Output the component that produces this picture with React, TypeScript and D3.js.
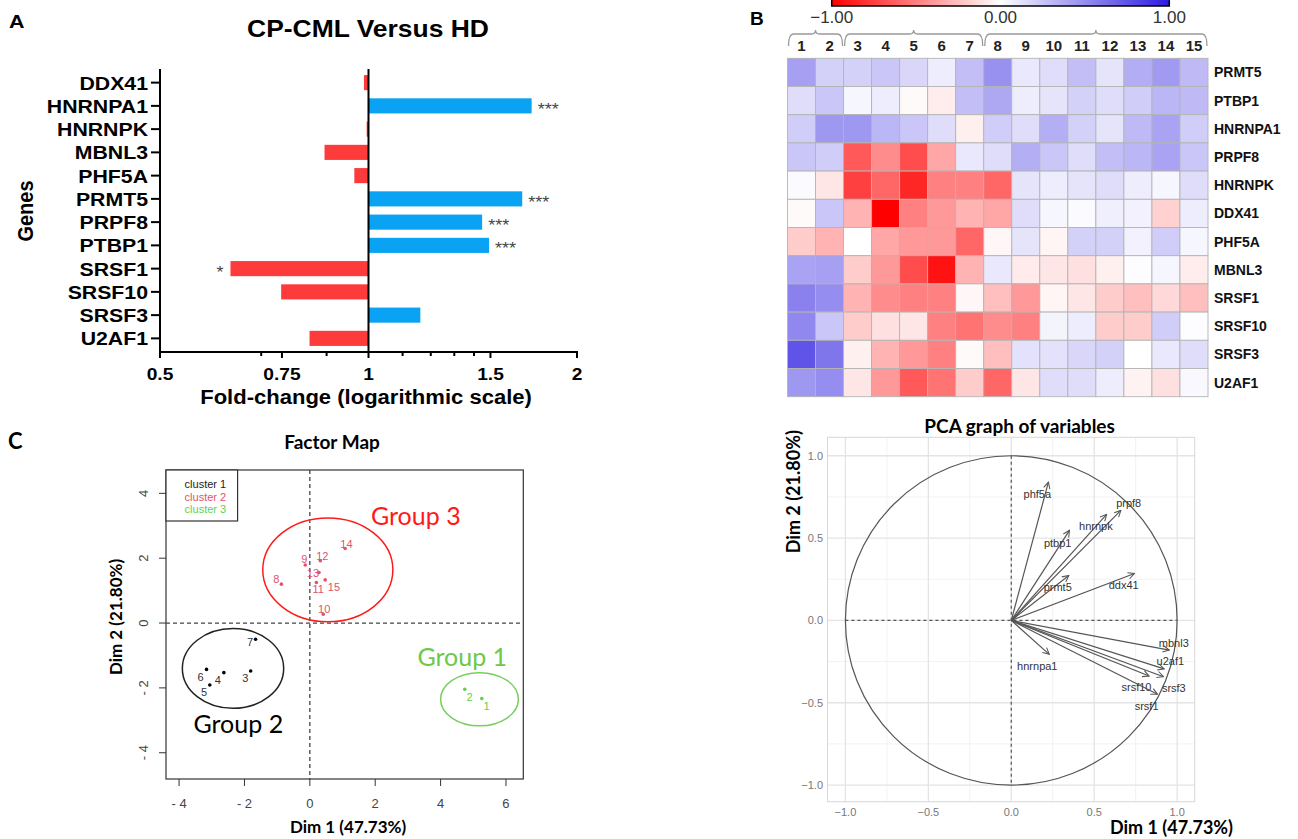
import React, { useEffect, useRef } from 'react';
import * as d3 from 'd3';

// ---- A: fold change CP-CML vs HD ----
const genes = ['DDX41', 'HNRNPA1', 'HNRNPK', 'MBNL3', 'PHF5A', 'PRMT5', 'PRPF8', 'PTBP1', 'SRSF1', 'SRSF10', 'SRSF3', 'U2AF1'];
const foldChange = [0.985, 1.72, 0.994, 0.864, 0.954, 1.667, 1.459, 1.493, 0.632, 0.748, 1.188, 0.822];
const significance = ['', '***', '', '', '', '***', '***', '***', '*', '', '', ''];
const foldTicks = [0.5, 0.75, 1, 1.5, 2];
const foldMinorTicks = [0.7, 0.87, 1.12, 1.23, 1.33, 1.42];

// ---- B: heatmap ----
const heatGenes = ['PRMT5', 'PTBP1', 'HNRNPA1', 'PRPF8', 'HNRNPK', 'DDX41', 'PHF5A', 'MBNL3', 'SRSF1', 'SRSF10', 'SRSF3', 'U2AF1'];
const heatSamples = ['1', '2', '3', '4', '5', '6', '7', '8', '9', '10', '11', '12', '13', '14', '15'];
const heatValues = [
  [0.42, 0.2, 0.2, 0.25, 0.18, 0.08, 0.28, 0.48, 0.1, 0.15, 0.28, 0.12, 0.36, 0.44, 0.3],
  [0.15, 0.25, 0.04, 0.08, -0.02, -0.07, 0.28, 0.38, 0.08, 0.12, 0.2, 0.15, 0.22, 0.32, 0.3],
  [0.22, 0.45, 0.45, 0.32, 0.25, 0.15, -0.06, 0.22, 0.15, 0.35, 0.2, 0.12, 0.3, 0.4, 0.22],
  [0.25, 0.22, -0.65, -0.45, -0.7, -0.35, 0.1, 0.15, 0.35, 0.25, 0.15, 0.28, 0.32, 0.4, 0.25],
  [0.02, -0.1, -0.75, -0.6, -0.85, -0.5, -0.5, -0.6, 0.12, 0.08, 0.12, 0.15, 0.08, 0.04, 0.15],
  [-0.02, 0.25, -0.3, -1.0, -0.5, -0.4, -0.3, -0.35, 0.15, 0.04, 0.02, 0.07, 0.06, -0.18, 0.08],
  [-0.2, -0.3, 0.0, -0.35, -0.4, -0.4, -0.6, -0.03, 0.12, -0.04, 0.2, 0.2, 0.06, 0.22, 0.04],
  [0.4, 0.42, -0.2, -0.4, -0.7, -0.93, -0.3, 0.1, -0.08, -0.1, -0.12, -0.06, 0.01, 0.04, -0.07],
  [0.55, 0.5, -0.3, -0.45, -0.5, -0.5, -0.03, -0.25, -0.4, -0.04, -0.1, -0.2, -0.25, -0.15, -0.25],
  [0.52, 0.25, -0.2, -0.12, -0.1, -0.5, -0.55, -0.45, -0.5, 0.05, 0.08, -0.2, -0.2, 0.22, 0.01],
  [0.75, 0.6, -0.06, -0.3, -0.4, -0.5, -0.02, -0.25, 0.13, 0.13, 0.18, 0.2, 0.0, 0.1, 0.15],
  [0.45, 0.5, -0.1, -0.4, -0.65, -0.55, -0.2, -0.6, -0.1, 0.15, 0.15, 0.08, -0.05, -0.12, 0.03],
];
const colorbarTicks = [-1, 0, 1];
const sampleGroups = [['1', '2'], ['3', '7'], ['8', '15']];

// ---- C: factor map ----
const sampleIds = ['1', '2', '3', '4', '5', '6', '7', '8', '9', '10', '11', '12', '13', '14', '15'];
const sampleDim1 = [5.26, 4.74, -1.81, -2.63, -3.06, -3.16, -1.66, -0.87, -0.14, 0.41, 0.2, 0.32, 0.28, 1.08, 0.47];
const sampleDim2 = [-2.33, -2.04, -1.48, -1.53, -1.91, -1.43, -0.5, 1.2, 1.79, 0.27, 1.25, 1.92, 1.56, 2.3, 1.33];
const sampleCluster = [3, 3, 1, 1, 1, 1, 1, 2, 2, 2, 2, 2, 2, 2, 2];
const clusterNames = ['cluster 1', 'cluster 2', 'cluster 3'];
const groupNames = ['Group 2', 'Group 3', 'Group 1'];
const groupLabelDim1 = [-3.56, 1.87, 3.29];
const groupLabelDim2 = [-3.4, 3.02, -1.33];
const ellipseDim1 = [-2.35, 0.55, 5.19];
const ellipseDim2 = [-1.4, 1.64, -2.35];
const ellipseRadius1 = [1.55, 1.99, 1.19];
const ellipseRadius2 = [1.23, 1.6, 0.82];
const factorXTicks = [-4, -2, 0, 2, 4, 6];
const factorYTicks = [-4, -2, 0, 2, 4];

// ---- D: PCA variables ----
const pcaVars = ['phf5a', 'prpf8', 'hnrnpk', 'ptbp1', 'prmt5', 'ddx41', 'mbnl3', 'u2af1', 'srsf3', 'srsf10', 'srsf1', 'hnrnpa1'];
const pcaDim1 = [0.224, 0.661, 0.575, 0.351, 0.347, 0.743, 0.953, 0.922, 0.918, 0.831, 0.882, 0.229];
const pcaDim2 = [0.84, 0.668, 0.644, 0.547, 0.273, 0.285, -0.18, -0.294, -0.342, -0.338, -0.449, -0.206];
const pcaLabelDim1 = [0.157, 0.708, 0.51, 0.28, 0.28, 0.678, 0.98, 0.959, 0.98, 0.755, 0.816, 0.157];
const pcaLabelDim2 = [0.769, 0.711, 0.573, 0.472, 0.202, 0.215, -0.136, -0.247, -0.409, -0.405, -0.52, -0.277];
const pcaTicks = [-1, -0.5, 0, 0.5, 1];
const pcaMinorTicks = [-0.75, -0.25, 0.25, 0.75];

const ARIAL = '"Liberation Sans", Arial, sans-serif';
const CALIBRI = 'Lato, "Open Sans", sans-serif';

function label(g, x, y, text, o: any = {}) {
  const sx = o.sx || 1;
  return g.append('text')
    .attr('transform', `translate(${x},${y}) scale(${sx},1)${o.rotate ? ` rotate(${o.rotate})` : ''}`)
    .attr('text-anchor', o.anchor || 'start')
    .attr('font-family', o.family || ARIAL)
    .attr('font-size', o.size || 12)
    .attr('font-weight', o.weight || 'normal')
    .attr('fill', o.fill || '#000')
    .text(text);
}

function drawBars(svg) {
  const g = svg.append('g');
  const x = d3.scaleLog().base(2).domain([0.5, 2]).range([160, 577]);
  const y = d3.scaleBand().domain(genes).range([71, 350]).paddingInner(0.35).paddingOuter(0.175);
  const rows = genes.map((gene, i) => ({ gene, value: foldChange[i], sig: significance[i] }));

  label(g, 9, 28, 'A', { size: 19, weight: 'bold', sx: 1.13 });
  label(g, 368, 37, 'CP-CML Versus HD', { size: 23, weight: 'bold', anchor: 'middle', sx: 1.15 });

  g.selectAll('.bar')
    .data(rows)
    .enter()
    .append('rect')
    .attr('x', d => Math.min(x(d.value), x(1)))
    .attr('y', d => y(d.gene))
    .attr('width', d => Math.abs(x(d.value) - x(1)))
    .attr('height', y.bandwidth())
    .attr('fill', d => (d.value > 1 ? '#0aa2f2' : '#fd3b3b'));

  rows.filter(d => d.sig).forEach(d => {
    const cy = y(d.gene) + y.bandwidth() / 2 + 9;
    if (d.value > 1) label(g, x(d.value) + 6, cy, d.sig, { size: 16, fill: '#444', sx: 1.13 });
    else label(g, x(d.value) - 7, cy, d.sig, { size: 16, fill: '#444', anchor: 'end', sx: 1.13 });
  });

  // axes
  g.append('line').attr('x1', 160).attr('x2', 160).attr('y1', 69).attr('y2', 352).attr('stroke', '#000').attr('stroke-width', 2);
  g.append('line').attr('x1', 159).attr('x2', 578).attr('y1', 352).attr('y2', 352).attr('stroke', '#000').attr('stroke-width', 2);
  g.append('line').attr('x1', x(1)).attr('x2', x(1)).attr('y1', 69).attr('y2', 352).attr('stroke', '#000').attr('stroke-width', 2);

  rows.forEach(d => {
    const cy = y(d.gene) + y.bandwidth() / 2;
    g.append('line').attr('x1', 151).attr('x2', 160).attr('y1', cy).attr('y2', cy).attr('stroke', '#000').attr('stroke-width', 2);
    label(g, 148, cy + 7, d.gene, { size: 19, weight: 'bold', anchor: 'end', sx: 1.12 });
  });

  foldTicks.forEach(t => {
    g.append('line').attr('x1', x(t)).attr('x2', x(t)).attr('y1', 352).attr('y2', 358).attr('stroke', '#000').attr('stroke-width', 2);
    label(g, x(t), 380, String(t), { size: 17, weight: 'bold', anchor: 'middle', sx: 1.13 });
  });
  foldMinorTicks.forEach(t => {
    g.append('line').attr('x1', x(t)).attr('x2', x(t)).attr('y1', 352).attr('y2', 356).attr('stroke', '#000').attr('stroke-width', 2);
  });

  label(g, 366, 404, 'Fold-change (logarithmic scale)', { size: 19.5, weight: 'bold', anchor: 'middle', sx: 1.13 });
  label(g, 32.5, 211, 'Genes', { size: 20, weight: 'bold', anchor: 'middle', sx: 1.13, rotate: -90 });
}

function drawHeatmap(svg) {
  const g = svg.append('g');
  const x = d3.scaleBand().domain(heatSamples).range([787.5, 1208]);
  const y = d3.scaleBand().domain(heatGenes).range([58.3, 396.7]);
  const color = d3.scaleLinear<string>().domain([-1, 0, 1]).range(['#ff0000', '#ffffff', '#2a1ae0']);
  const cb = d3.scaleLinear().domain([-1, 1]).range([831.7, 1169.3]);

  label(g, 750, 25, 'B', { size: 19, weight: 'bold' });

  const grad = svg.append('defs').append('linearGradient').attr('id', 'heatGrad');
  d3.range(0, 1.0001, 0.05).forEach(t => {
    grad.append('stop').attr('offset', t).attr('stop-color', color(-1 + 2 * t));
  });
  g.append('rect')
    .attr('x', cb(-1)).attr('y', -6).attr('width', cb(1) - cb(-1)).attr('height', 12)
    .attr('fill', 'url(#heatGrad)').attr('stroke', '#000').attr('stroke-width', 1.5);
  colorbarTicks.forEach(t => {
    label(g, cb(t), 23.3, d3.format('.2f')(t), { size: 17, anchor: 'middle', fill: '#333' });
  });

  // braces over sample groups
  sampleGroups.forEach(([a, b]) => {
    const x0 = x(a) + 1;
    const x1 = x(b) + x.bandwidth() - 1;
    const m = (x0 + x1) / 2;
    const path = `M${x0},46 Q${x0},34 ${x0 + 5},34 L${m - 4},34 Q${m},34 ${m},30 Q${m},34 ${m + 4},34 L${x1 - 5},34 Q${x1},34 ${x1},46`;
    g.append('path').attr('d', path).attr('fill', 'none').attr('stroke', '#999').attr('stroke-width', 1.3);
  });

  heatSamples.forEach(s => {
    label(g, x(s) + x.bandwidth() / 2, 51, s, { size: 15, weight: 'bold', anchor: 'middle', fill: '#222' });
  });

  const cells = heatValues.flatMap((row, i) => row.map((v, j) => ({ gene: heatGenes[i], sample: heatSamples[j], v })));
  g.selectAll('.cell')
    .data(cells)
    .enter()
    .append('rect')
    .attr('x', d => x(d.sample))
    .attr('y', d => y(d.gene))
    .attr('width', x.bandwidth())
    .attr('height', y.bandwidth())
    .attr('fill', d => color(d.v))
    .attr('stroke', '#b4b4b4')
    .attr('stroke-width', 0.9);

  heatGenes.forEach(gene => {
    label(g, 1214, y(gene) + y.bandwidth() / 2 + 5, gene, { size: 14, weight: 'bold', fill: '#111' });
  });
}

function drawFactorMap(svg) {
  const g = svg.append('g');
  const x = d3.scaleLinear().domain([-4.4, 6.53]).range([166, 523.3]);
  const y = d3.scaleLinear().domain([4.72, -4.81]).range([470, 779]);
  const clusterColor = ['#000000', '#DF536B', '#61D04F'];
  const ellipseColor = ['#222222', '#ff1a1a', '#77cf5f'];
  const groupColor = ['#000000', '#ff1a1a', '#6cc84a'];
  const labelOffset = {
    '1': [4.7, 7.7], '2': [4.7, 7.7], '3': [-5.4, 7.3], '4': [-6, 7.3], '5': [-5.7, 6.7],
    '6': [-6, 7.3], '7': [-5.4, 2.3], '8': [-5, -4.7], '9': [-1, -5.7], '10': [1, -5],
    '11': [1.8, 6.5], '12': [2, -5], '13': [-6, 1], '14': [1.3, -4], '15': [8.7, 6.7],
  };

  label(g, 8, 449, 'C', { size: 22, weight: 'bold', family: CALIBRI });
  label(g, 332, 449, 'Factor Map', { size: 19, weight: 'bold', anchor: 'middle', family: CALIBRI });

  g.append('rect').attr('x', x(-4.4)).attr('y', y(4.72)).attr('width', x(6.53) - x(-4.4)).attr('height', y(-4.81) - y(4.72))
    .attr('fill', 'none').attr('stroke', '#333').attr('stroke-width', 1.2);

  factorXTicks.forEach(t => {
    g.append('line').attr('x1', x(t)).attr('x2', x(t)).attr('y1', 779).attr('y2', 786).attr('stroke', '#333');
    label(g, x(t), 808, t < 0 ? `- ${-t}` : String(t), { size: 13, anchor: 'middle', fill: '#444' });
  });
  factorYTicks.forEach(t => {
    g.append('line').attr('x1', 159).attr('x2', 166).attr('y1', y(t)).attr('y2', y(t)).attr('stroke', '#333');
    label(g, 148, y(t), t < 0 ? `- ${-t}` : String(t), { size: 13, anchor: 'middle', fill: '#444', rotate: -90 });
  });

  g.append('line').attr('x1', x(0)).attr('x2', x(0)).attr('y1', 470).attr('y2', 779)
    .attr('stroke', '#444').attr('stroke-width', 1.3).attr('stroke-dasharray', '4,3');
  g.append('line').attr('x1', 166).attr('x2', 523.3).attr('y1', y(0)).attr('y2', y(0))
    .attr('stroke', '#444').attr('stroke-width', 1.3).attr('stroke-dasharray', '4,3');

  ellipseDim1.forEach((cx, i) => {
    g.append('ellipse')
      .attr('cx', x(cx)).attr('cy', y(ellipseDim2[i]))
      .attr('rx', x(ellipseRadius1[i]) - x(0)).attr('ry', y(0) - y(ellipseRadius2[i]))
      .attr('fill', 'none').attr('stroke', ellipseColor[i]).attr('stroke-width', 1.5);
    label(g, x(groupLabelDim1[i]), y(groupLabelDim2[i]), groupNames[i], { size: 25, fill: groupColor[i], family: CALIBRI });
  });

  const points = sampleIds.map((id, i) => ({ id, d1: sampleDim1[i], d2: sampleDim2[i], c: sampleCluster[i] - 1 }));
  g.selectAll('.pt')
    .data(points)
    .enter()
    .append('circle')
    .attr('cx', d => x(d.d1))
    .attr('cy', d => y(d.d2))
    .attr('r', 1.8)
    .attr('fill', d => clusterColor[d.c]);
  points.forEach(d => {
    const [dx, dy] = labelOffset[d.id];
    label(g, x(d.d1) + dx, y(d.d2) + dy + 4, d.id, { size: 11, anchor: 'middle', fill: d.c === 0 ? '#333' : clusterColor[d.c] });
  });

  g.append('rect').attr('x', 166).attr('y', 470).attr('width', 71.6).attr('height', 51)
    .attr('fill', '#fff').attr('stroke', '#333').attr('stroke-width', 1.2);
  clusterNames.forEach((n, i) => {
    label(g, 184.6, 488 + i * 12.7, n, { size: 11, fill: clusterColor[i] === '#000000' ? '#222' : clusterColor[i] });
  });

  label(g, 348, 833, 'Dim 1 (47.73%)', { size: 17, weight: 'bold', anchor: 'middle', family: CALIBRI });
  label(g, 122, 617, 'Dim 2 (21.80%)', { size: 17, weight: 'bold', anchor: 'middle', family: CALIBRI, rotate: -90 });
}

function drawPca(svg) {
  const g = svg.append('g');
  const x = d3.scaleLinear().domain([-1.108, 1.106]).range([827.5, 1194.7]);
  const y = d3.scaleLinear().domain([1.112, -1.101]).range([437.3, 801.7]);

  svg.select('defs').append('marker')
    .attr('id', 'pcaArrow')
    .attr('viewBox', '0 0 10 10')
    .attr('refX', 9).attr('refY', 5)
    .attr('markerWidth', 8).attr('markerHeight', 8)
    .attr('markerUnits', 'userSpaceOnUse')
    .attr('orient', 'auto')
    .append('path')
    .attr('d', 'M1,1 L9,5 L1,9')
    .attr('fill', 'none')
    .attr('stroke', '#555')
    .attr('stroke-width', 1.3);

  label(g, 1019.6, 433.3, 'PCA graph of variables', { size: 19, weight: 'bold', anchor: 'middle', family: CALIBRI });

  pcaMinorTicks.forEach(t => {
    g.append('line').attr('x1', x(t)).attr('x2', x(t)).attr('y1', 437.3).attr('y2', 801.7).attr('stroke', '#f2f2f2').attr('stroke-width', 1);
    g.append('line').attr('x1', 827.5).attr('x2', 1194.7).attr('y1', y(t)).attr('y2', y(t)).attr('stroke', '#f2f2f2').attr('stroke-width', 1);
  });
  pcaTicks.forEach(t => {
    g.append('line').attr('x1', x(t)).attr('x2', x(t)).attr('y1', 437.3).attr('y2', 801.7).attr('stroke', '#e4e4e4').attr('stroke-width', 1.3);
    g.append('line').attr('x1', 827.5).attr('x2', 1194.7).attr('y1', y(t)).attr('y2', y(t)).attr('stroke', '#e4e4e4').attr('stroke-width', 1.3);
    label(g, x(t), 816, d3.format('.1f')(t), { size: 11, anchor: 'middle', fill: '#777' });
    label(g, 823, y(t) + 4, d3.format('.1f')(t), { size: 11, anchor: 'end', fill: '#777' });
  });
  g.append('rect').attr('x', 827.5).attr('y', 437.3).attr('width', 1194.7 - 827.5).attr('height', 801.7 - 437.3)
    .attr('fill', 'none').attr('stroke', '#d8d8d8').attr('stroke-width', 1);

  g.append('ellipse').attr('cx', x(0)).attr('cy', y(0)).attr('rx', x(1) - x(0)).attr('ry', y(0) - y(1))
    .attr('fill', 'none').attr('stroke', '#555').attr('stroke-width', 1.2);
  g.append('line').attr('x1', x(-1)).attr('x2', x(1)).attr('y1', y(0)).attr('y2', y(0))
    .attr('stroke', '#555').attr('stroke-width', 1.2).attr('stroke-dasharray', '3,3');
  g.append('line').attr('x1', x(0)).attr('x2', x(0)).attr('y1', y(1)).attr('y2', y(-1))
    .attr('stroke', '#555').attr('stroke-width', 1.2).attr('stroke-dasharray', '3,3');

  pcaVars.forEach((v, i) => {
    g.append('line')
      .attr('x1', x(0)).attr('y1', y(0))
      .attr('x2', x(pcaDim1[i])).attr('y2', y(pcaDim2[i]))
      .attr('stroke', '#555').attr('stroke-width', 1.2)
      .attr('marker-end', 'url(#pcaArrow)');
    label(g, x(pcaLabelDim1[i]), y(pcaLabelDim2[i]) + 4, v, { size: 11, anchor: 'middle', fill: '#333' });
  });

  label(g, 800, 491.7, 'Dim 2 (21.80%)', { size: 18, weight: 'bold', anchor: 'middle', family: CALIBRI, rotate: -90 });
  label(g, 1110, 834, 'Dim 1 (47.73%)', { size: 18, weight: 'bold', family: CALIBRI });
}

export default function App() {
  const svgRef = useRef(null);

  useEffect(() => {
    const svg = d3.select(svgRef.current);
    svg.selectAll('*').remove();
    svg.append('defs');
    drawBars(svg);
    drawHeatmap(svg);
    drawFactorMap(svg);
    drawPca(svg);
  }, []);

  return (
    <svg
      ref={svgRef}
      width={1298}
      height={839}
      style={{ position: 'absolute', left: 0, top: 0, background: '#fff' }}
    />
  );
}
